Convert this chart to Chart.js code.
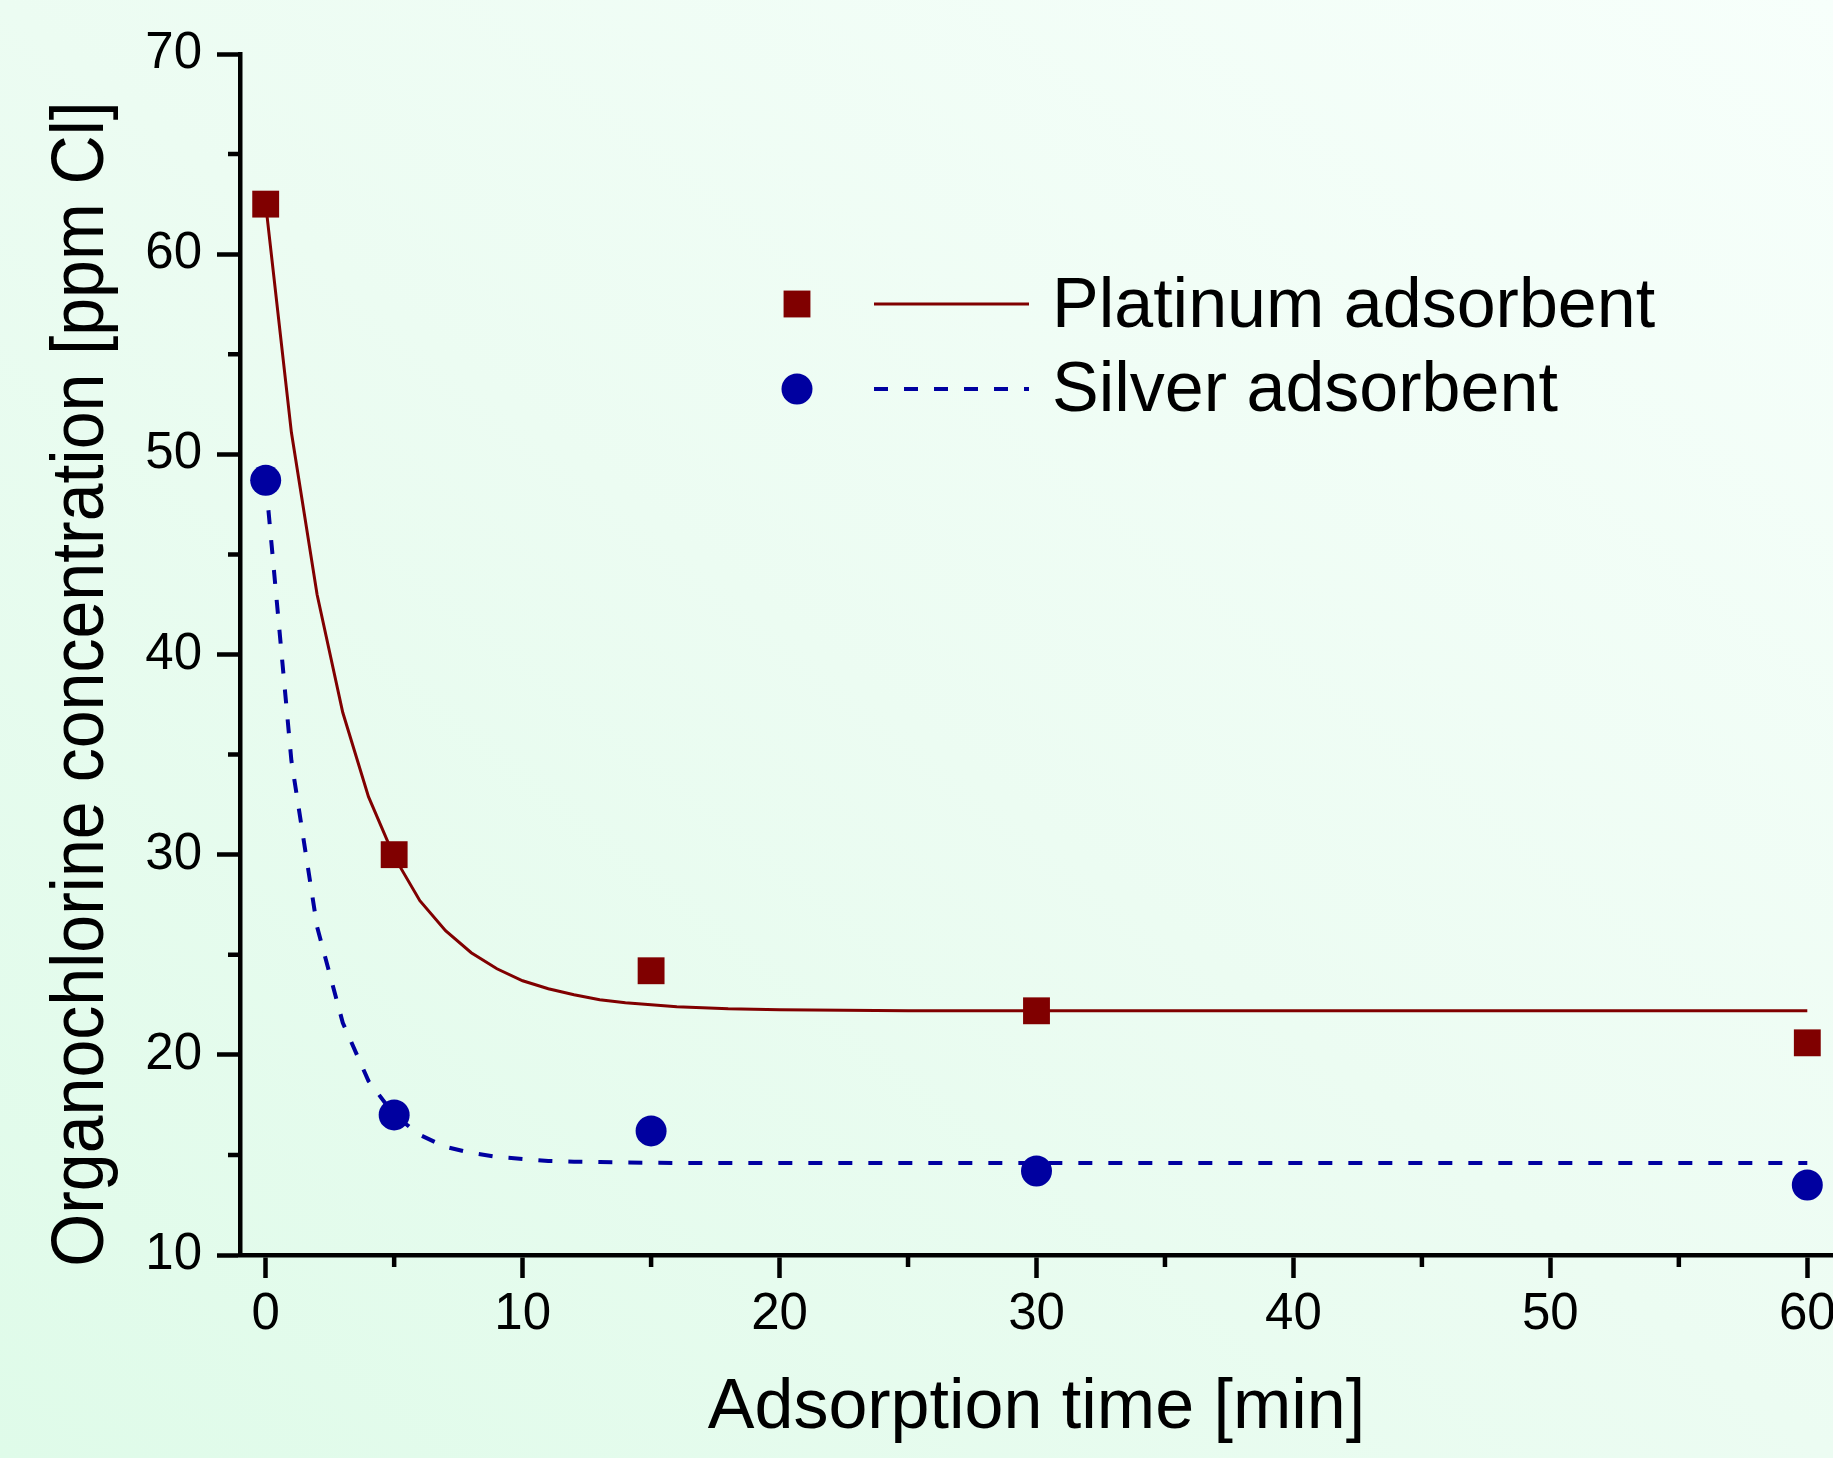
<!DOCTYPE html>
<html>
<head>
<meta charset="utf-8">
<script src="https://cdn.jsdelivr.net/npm/chart.js@4/dist/chart.umd.min.js"></script>
<style>
  html, body { margin: 0; padding: 0; }
  body { width: 1833px; height: 1458px; overflow: hidden;
         background: linear-gradient(to bottom left, #f7fffb 0%, #ecfcf2 50%, #dffbe9 100%); }
  canvas { display: block; }
</style>
</head>
<body>
<canvas id="c" width="1833" height="1458"></canvas>
<script>
// ---- data ----
const xTickValues = [0, 10, 20, 30, 40, 50, 60];
const xMinorValues = [5, 15, 25, 35, 45, 55];
const yTickValues = [10, 20, 30, 40, 50, 60, 70];
const yMinorValues = [15, 25, 35, 45, 55, 65];

const times = [0, 5, 15, 30, 60];
const platinumValues = [62.5, 30.0, 24.2, 22.2, 20.6];
const silverValues = [48.7, 17.0, 16.2, 14.2, 13.5];

const fitTimes = [0, 1, 2, 3, 4, 5, 6, 7, 8, 9, 10, 11, 12, 13, 14, 15, 16, 17, 18, 19, 20, 25, 30, 40, 50, 60];
const platinumFit = [62.5, 51.1, 43.0, 37.1, 32.9, 29.9, 27.7, 26.2, 25.1, 24.3, 23.7, 23.3, 23.0, 22.75, 22.6, 22.5, 22.4, 22.35, 22.3, 22.28, 22.25, 22.2, 22.2, 22.2, 22.2, 22.2];
const silverFit = [48.7, 34.7, 26.4, 21.6, 18.7, 17.0, 16.0, 15.4, 15.1, 14.9, 14.8, 14.7, 14.66, 14.64, 14.62, 14.61, 14.6, 14.6, 14.6, 14.6, 14.6, 14.6, 14.6, 14.6, 14.6, 14.6];

const seriesLabels = ['Platinum adsorbent', 'Silver adsorbent'];
const xTitle = 'Adsorption time [min]';
const yTitle = 'Organochlorine concentration [ppm Cl]';

const RED = '#800000';
const BLUE = '#0000a0';
const FONT = '"Liberation Sans", Arial, sans-serif';

const toXY = (xs, ys) => xs.map((x, i) => ({ x: x, y: ys[i] }));

// minor ticks
const minorTicks = {
  id: 'minorTicks',
  afterDraw(chart) {
    const ctx = chart.ctx, xs = chart.scales.x, ys = chart.scales.y;
    ctx.save();
    ctx.strokeStyle = '#000';
    ctx.lineWidth = 4.5;
    ctx.beginPath();
    xMinorValues.forEach(v => {
      const px = xs.getPixelForValue(v);
      ctx.moveTo(px, xs.top); ctx.lineTo(px, xs.top + 12);
    });
    yMinorValues.forEach(v => {
      const py = ys.getPixelForValue(v);
      ctx.moveTo(ys.right, py); ctx.lineTo(ys.right - 12, py);
    });
    ctx.stroke();
    ctx.restore();
  }
};

// y-axis title
const yTitlePlugin = {
  id: 'yTitlePlugin',
  afterDraw(chart) {
    const ctx = chart.ctx;
    ctx.save();
    ctx.translate(103, 684);
    ctx.rotate(-Math.PI / 2);
    ctx.scale(0.92, 1);
    ctx.font = '74px ' + FONT;
    ctx.fillStyle = '#000';
    ctx.textAlign = 'center';
    ctx.textBaseline = 'alphabetic';
    ctx.fillText(yTitle, 0, 0);
    ctx.restore();
  }
};

// legend: marker, line sample, label
const legendPlugin = {
  id: 'customLegend',
  afterDraw(chart) {
    const ctx = chart.ctx;
    const rows = [
      { marker: 0, line: 1, cy: 304, base: 327 },
      { marker: 2, line: 3, cy: 389, base: 411 }
    ];
    ctx.save();
    rows.forEach((r, i) => {
      const m = chart.data.datasets[r.marker];
      const l = chart.data.datasets[r.line];
      ctx.fillStyle = m.pointBackgroundColor;
      Chart.helpers.drawPoint(ctx, { pointStyle: m.pointStyle, radius: m.pointRadius, borderWidth: 0, rotation: 0 }, 797, r.cy);
      ctx.beginPath();
      ctx.strokeStyle = l.borderColor;
      ctx.lineWidth = l.borderWidth;
      ctx.setLineDash(l.borderDash || []);
      ctx.moveTo(874, r.cy); ctx.lineTo(1029, r.cy);
      ctx.stroke();
      ctx.setLineDash([]);
      ctx.fillStyle = '#000';
      ctx.font = '70px ' + FONT;
      ctx.textAlign = 'left';
      ctx.textBaseline = 'alphabetic';
      ctx.fillText(seriesLabels[i], 1052, r.base);
    });
    ctx.restore();
  }
};

new Chart(document.getElementById('c'), {
  type: 'scatter',
  data: {
    datasets: [
      { label: seriesLabels[0], data: toXY(times, platinumValues), showLine: false,
        pointStyle: 'rect', pointRadius: 19, pointHoverRadius: 19, pointBorderWidth: 0,
        pointBackgroundColor: RED, backgroundColor: RED, borderColor: RED, order: 0 },
      { label: seriesLabels[0] + ' fit', data: toXY(fitTimes, platinumFit), showLine: true,
        pointRadius: 0, borderColor: RED, borderWidth: 3, tension: 0, order: 1 },
      { label: seriesLabels[1], data: toXY(times, silverValues), showLine: false,
        pointStyle: 'circle', pointRadius: 15.5, pointHoverRadius: 15.5, pointBorderWidth: 0,
        pointBackgroundColor: BLUE, backgroundColor: BLUE, borderColor: BLUE, order: 0 },
      { label: seriesLabels[1] + ' fit', data: toXY(fitTimes, silverFit), showLine: true,
        pointRadius: 0, borderColor: BLUE, borderWidth: 4, borderDash: [14, 16], tension: 0, order: 1 }
    ]
  },
  options: {
    responsive: false,
    animation: false,
    clip: false,
    layout: { autoPadding: false, padding: { top: 54, right: 0, bottom: 0, left: 0 } },
    plugins: { legend: { display: false }, tooltip: { enabled: false } },
    scales: {
      x: {
        type: 'linear', min: -1, max: 61,
        afterBuildTicks: s => { s.ticks = xTickValues.map(v => ({ value: v })); },
        afterFit: s => { s.height = 203; s.paddingLeft = 0; s.paddingRight = 0; },
        grid: { display: true, drawOnChartArea: false, drawTicks: true, tickLength: 23, tickWidth: 4.5, tickColor: '#000' },
        border: { display: true, color: '#000', width: 4.5 },
        ticks: { color: '#000', font: { family: FONT, size: 51 }, padding: 6, maxRotation: 0, autoSkip: false },
        title: { display: true, text: xTitle, color: '#000', font: { family: FONT, size: 70 }, padding: { top: 0, bottom: 7 } }
      },
      y: {
        type: 'linear', min: 10, max: 70,
        afterBuildTicks: s => { s.ticks = yTickValues.map(v => ({ value: v })); },
        afterFit: s => { s.width = 240; s.paddingTop = 0; s.paddingBottom = 0; },
        grid: { display: true, drawOnChartArea: false, drawTicks: true, tickLength: 23, tickWidth: 4.5, tickColor: '#000' },
        border: { display: true, color: '#000', width: 4.5 },
        ticks: { color: '#000', font: { family: FONT, size: 51 }, padding: 15, autoSkip: false }
      }
    }
  },
  plugins: [minorTicks, yTitlePlugin, legendPlugin]
});
</script>
</body>
</html>
